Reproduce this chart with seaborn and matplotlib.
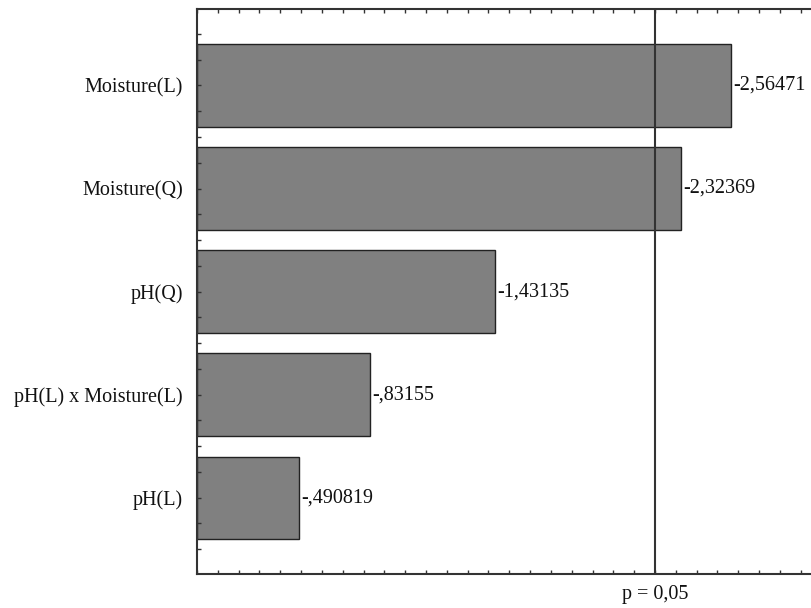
import numpy as np
import pandas as pd
import seaborn as sns
import matplotlib.pyplot as plt
from matplotlib.ticker import MultipleLocator

# valores del gráfico de Pareto (efectos estandarizados)
efectos = ['Moisture(L)', 'Moisture(Q)', 'pH(Q)', 'pH(L) x Moisture(L)', 'pH(L)']
valores = [-2.56471, -2.32369, -1.43135, -0.83155, -0.490819]
p_limite = 2.2
p_texto = 'p = 0,05'

df = pd.DataFrame({'Efecto': efectos, 'Valor': valores})
df['Abs'] = df['Valor'].abs()

sns.set_style('white')
plt.rcParams['font.family'] = ['Liberation Serif', 'DejaVu Serif']

fig = plt.figure(figsize=(8.12, 6.08), dpi=100)
ax = fig.add_axes([197 / 812, 34 / 608, 1 - 197 / 812, 565 / 608])

sns.barplot(data=df, x='Abs', y='Efecto', orient='h', color='#808080',
            saturation=1, edgecolor='#222222', linewidth=1.0, width=0.8, ax=ax)
ax.set_axisbelow(False)

def etiqueta(v):
    s = f"{v}".replace('.', ',')
    return s.replace('-0,', '-,')

for i, v in enumerate(df['Valor']):
    ax.text(abs(v) + 0.012, i, etiqueta(v), va='center', ha='left',
            fontsize=14.5, color='#111111')

ax.axvline(p_limite, color='#333333', lw=1.5, zorder=5)
ax.text(p_limite, -0.037, p_texto, transform=ax.get_xaxis_transform(),
        ha='center', va='center', fontsize=14.5, color='#111111')

ax.set_xlim(0, (812 - 197) / 208.2)
ax.set_ylim(4.74, -0.742)
ax.set_xlabel('')
ax.set_ylabel('')

ax.xaxis.set_major_locator(MultipleLocator(0.5))
ax.xaxis.set_minor_locator(MultipleLocator(0.1))
ax.yaxis.set_minor_locator(MultipleLocator(0.25))
ax.tick_params(axis='x', which='both', direction='in', top=True, bottom=True,
               labelbottom=False, length=3, width=1, color='#333333')
ax.tick_params(axis='y', which='both', direction='in', left=True,
               length=3, width=1, color='#333333', pad=10)
ax.tick_params(axis='y', labelsize=14.5, labelcolor='#111111')

for side in ['left', 'top', 'bottom']:
    ax.spines[side].set_color('#333333')
    ax.spines[side].set_linewidth(1.5)
ax.spines['right'].set_visible(False)

fig.savefig('out.png', dpi=100)
